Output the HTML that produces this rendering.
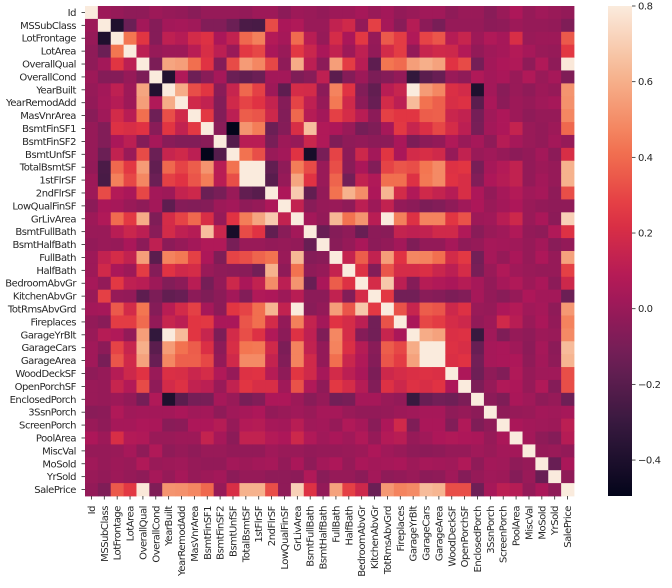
<!DOCTYPE html>
<html><head><meta charset="utf-8"><style>
body{margin:0;background:#fff;}
svg text{font-family:"DejaVu Sans","Liberation Sans",sans-serif;font-size:10px;letter-spacing:-0.45px;fill:#262626;}
</style></head><body>
<svg id="chart" width="672" height="583" xmlns="http://www.w3.org/2000/svg">
<g id="cells"></g>
<g id="ylab"></g>
<g id="xlab"></g>
<defs><linearGradient id="cbg" x1="0" y1="1" x2="0" y2="0"></linearGradient></defs>
<g id="cbar"></g>
</svg>
<script>
const labels=["Id","MSSubClass","LotFrontage","LotArea","OverallQual","OverallCond","YearBuilt","YearRemodAdd","MasVnrArea","BsmtFinSF1","BsmtFinSF2","BsmtUnfSF","TotalBsmtSF","1stFlrSF","2ndFlrSF","LowQualFinSF","GrLivArea","BsmtFullBath","BsmtHalfBath","FullBath","HalfBath","BedroomAbvGr","KitchenAbvGr","TotRmsAbvGrd","Fireplaces","GarageYrBlt","GarageCars","GarageArea","WoodDeckSF","OpenPorchSF","EnclosedPorch","3SsnPorch","ScreenPorch","PoolArea","MiscVal","MoSold","YrSold","SalePrice"];
// upper triangle: row i holds correlations with variables i+1..37
const upper=[
[0.01,-0.01,-0.03,-0.03,0.01,-0.01,-0.02,-0.05,-0.01,-0.01,-0.01,-0.02,0.01,0.01,-0.04,0.01,0.00,-0.02,0.01,0.01,0.04,0.00,0.03,-0.02,0.00,0.02,0.02,-0.03,0.00,0.00,-0.05,0.00,0.06,-0.01,0.02,0.00,-0.02],
[-0.39,-0.14,0.03,-0.06,0.03,0.04,0.02,-0.07,-0.07,-0.14,-0.24,-0.25,0.31,0.05,0.07,0,0,0.13,0.18,-0.02,0.28,0.04,-0.05,0.09,-0.04,-0.10,-0.01,-0.01,-0.01,-0.04,-0.03,0.01,-0.01,-0.01,-0.02,-0.08],
[0.43,0.25,-0.06,0.12,0.09,0.19,0.23,0.05,0.13,0.39,0.46,0.08,0.04,0.40,0.10,-0.01,0.20,0.05,0.26,-0.01,0.35,0.27,0.07,0.29,0.34,0.09,0.15,0.01,0.07,0.04,0.21,0.00,0.01,0.01,0.35],
[0.11,-0.01,0.01,0.01,0.10,0.21,0.11,0,0.26,0.30,0.05,0,0.26,0.16,0.05,0.13,0.01,0.12,-0.02,0.19,0.27,-0.02,0.15,0.18,0.17,0.08,-0.02,0.02,0.04,0.08,0.04,0,-0.01,0.26],
[-0.09,0.57,0.55,0.41,0.24,-0.06,0.31,0.54,0.48,0.30,-0.03,0.59,0.11,-0.04,0.55,0.27,0.10,-0.18,0.43,0.40,0.55,0.60,0.56,0.24,0.31,-0.11,0.03,0.06,0.07,-0.03,0.07,-0.03,0.79],
[-0.38,0.07,-0.13,-0.05,0.04,-0.14,-0.17,-0.14,0.03,0.03,-0.08,-0.05,0.12,-0.19,-0.06,0.01,-0.09,-0.06,-0.02,-0.32,-0.19,-0.15,0,-0.03,0.07,0.03,0.05,0,0.07,0,0.04,-0.08],
[0.59,0.32,0.25,-0.05,0.15,0.39,0.28,0.01,-0.18,0.20,0.19,-0.04,0.47,0.24,-0.07,-0.17,0.10,0.15,0.83,0.54,0.48,0.22,0.19,-0.39,0.03,-0.05,0,-0.03,0.01,-0.01,0.52],
[0.18,0.13,-0.07,0.18,0.29,0.24,0.14,-0.06,0.29,0.12,-0.01,0.44,0.18,-0.04,-0.15,0.19,0.11,0.64,0.42,0.37,0.21,0.23,-0.19,0.05,-0.04,0.01,-0.01,0.02,0.04,0.51],
[0.26,-0.07,0.11,0.36,0.34,0.17,-0.07,0.39,0.09,0.03,0.28,0.20,0.10,-0.04,0.28,0.25,0.25,0.36,0.37,0.16,0.13,-0.11,0.02,0.06,0.01,-0.03,-0.01,-0.01,0.48],
[-0.05,-0.495,0.52,0.45,-0.14,-0.06,0.21,0.65,0.07,0.06,0,-0.11,-0.08,0.04,0.26,0.15,0.22,0.30,0.20,0.11,-0.10,0.03,0.06,0.14,0,-0.02,0.01,0.39],
[-0.21,0.10,0.10,-0.10,0.01,-0.01,0.16,0.07,-0.08,-0.03,-0.02,-0.04,-0.04,0.05,-0.09,-0.04,-0.02,0.07,0,0.04,-0.03,0.09,0.04,0,-0.02,0.03,-0.01],
[0.42,0.32,0,0.03,0.24,-0.42,-0.10,0.29,-0.04,0.17,0.03,0.25,0.05,0.19,0.21,0.18,-0.01,0.13,0,0.02,-0.01,-0.04,-0.02,0.03,-0.04,0.21],
[0.82,-0.17,-0.03,0.45,0.31,0,0.32,-0.05,0.05,-0.07,0.29,0.34,0.32,0.43,0.49,0.23,0.25,-0.10,0.04,0.08,0.13,-0.02,0.01,-0.01,0.61],
[-0.20,-0.01,0.57,0.24,0,0.38,-0.12,0.13,0.07,0.41,0.41,0.23,0.44,0.49,0.24,0.21,-0.07,0.06,0.09,0.13,-0.02,0.03,-0.01,0.61],
[0.06,0.69,-0.17,-0.02,0.42,0.61,0.50,0.06,0.62,0.19,0.07,0.18,0.14,0.09,0.21,0.06,-0.02,0.04,0.08,0.02,0.04,-0.03,0.32],
[0.13,-0.05,-0.01,0,-0.03,0.11,0.01,0.13,-0.02,-0.04,-0.09,-0.07,-0.03,0.02,0.06,0,0.03,0.06,0,-0.02,-0.03,-0.03],
[0.03,-0.02,0.63,0.42,0.52,0.10,0.83,0.46,0.23,0.47,0.47,0.25,0.33,0.01,0.02,0.10,0.17,0,0.05,-0.04,0.71],
[-0.15,-0.06,-0.03,-0.15,-0.04,-0.05,0.14,0.12,0.13,0.18,0.18,0.07,-0.05,0,0.02,0.07,-0.02,-0.03,0.07,0.23],
[-0.05,-0.01,0.05,-0.04,-0.02,0.03,-0.08,-0.02,-0.02,0.04,-0.03,-0.01,0.04,0.03,0.02,-0.01,0.03,-0.05,-0.02],
[0.14,0.36,0.13,0.55,0.24,0.48,0.47,0.41,0.19,0.26,-0.12,0.04,-0.01,0.05,-0.01,0.06,-0.01,0.56],
[0.23,-0.07,0.34,0.20,0.20,0.22,0.16,0.11,0.20,-0.10,0,0.07,0.02,0,-0.01,-0.01,0.28],
[0.20,0.68,0.11,-0.06,0.09,0.07,0.05,0.09,0.04,-0.02,0.04,0.07,0.01,0.05,-0.04,0.17],
[0.26,-0.12,-0.12,-0.05,-0.06,-0.09,-0.07,0.04,-0.02,-0.05,-0.01,0.06,0.03,0.03,-0.14],
[0.33,0.15,0.36,0.34,0.17,0.23,0,-0.01,0.06,0.08,0.02,0.04,-0.03,0.53],
[0.05,0.30,0.27,0.20,0.17,-0.02,0.01,0.18,0.10,0,0.05,-0.02,0.47],
[0.59,0.56,0.22,0.23,-0.30,0.02,-0.08,-0.01,-0.03,0.01,0,0.49],
[0.88,0.23,0.21,-0.15,0.04,0.05,0.02,-0.04,0.04,-0.04,0.64],
[0.22,0.24,-0.12,0.04,0.05,0.06,-0.03,0.03,-0.03,0.62],
[0.06,-0.13,-0.03,-0.07,0.07,-0.01,0.02,0.02,0.32],
[-0.09,-0.01,0.07,0.06,-0.01,0.07,-0.06,0.32],
[-0.04,-0.08,0.05,0.02,-0.03,-0.01,-0.13],
[-0.03,-0.01,0.00,0.03,0.02,0.04],
[0.05,0.03,0.02,0.01,0.11],
[0.03,-0.03,-0.06,0.09],
[-0.01,0.00,-0.02],
[-0.15,0.05],
[-0.03]
];
const cbTicks=[-0.4,-0.2,0.0,0.2,0.4,0.6,0.8];
const VMAX=0.8;

const NS="http://www.w3.org/2000/svg";
const n=labels.length;
const M=[];for(let i=0;i<n;i++){M.push(new Array(n).fill(1));}
for(let i=0;i<n-1;i++)for(let k=0;k<upper[i].length;k++){const j=i+1+k;M[i][j]=upper[i][k];M[j][i]=upper[i][k];}
let VMIN=Infinity;for(const r of M)for(const v of r)VMIN=Math.min(VMIN,v);

const X0=85,Y0=6,W=489,H=490,cw=W/n,ch=H/n;
const xs=i=>X0+i*cw, ys=i=>Y0+i*ch;
const stops=[[0,[3,5,26]],[1/7,[53,25,62]],[2/7,[112,31,87]],[3/7,[173,23,89]],[4/7,[225,51,66]],[5/7,[243,118,81]],[6/7,[246,180,143]],[1,[250,235,221]]];
function cmap(t){t=Math.max(0,Math.min(1,t));for(let k=1;k<stops.length;k++){if(t<=stops[k][0]){const a=stops[k-1],b=stops[k];const f=(t-a[0])/(b[0]-a[0]);const c=a[1].map((v,q)=>Math.round(v+(b[1][q]-v)*f));return `rgb(${c[0]},${c[1]},${c[2]})`;}}return 'rgb(250,235,221)';}
const col=v=>cmap((v-VMIN)/(VMAX-VMIN));
function mk(tag,attrs,parent){const e=document.createElementNS(NS,tag);for(const k in attrs)e.setAttribute(k,attrs[k]);parent.appendChild(e);return e;}

const cells=document.getElementById('cells');
for(let i=0;i<n;i++)for(let j=0;j<n;j++){
  const r=mk('rect',{x:xs(j).toFixed(2),y:ys(i).toFixed(2),width:(cw+0.4).toFixed(2),height:(ch+0.4).toFixed(2),fill:col(M[i][j])},cells);
  
  
}
const yl=document.getElementById('ylab'),xl=document.getElementById('xlab');
for(let i=0;i<n;i++){
  const cy=ys(i)+ch/2, cx=xs(i)+cw/2;
  mk('line',{x1:X0-3.5,x2:X0,y1:cy,y2:cy,stroke:'#262626','stroke-width':0.8},yl);
  const t=mk('text',{x:X0-9,y:cy+3.5,'text-anchor':'end'},yl);t.textContent=labels[i];
  
  
  mk('line',{x1:cx,x2:cx,y1:Y0+H,y2:Y0+H+3.5,stroke:'#262626','stroke-width':0.8},xl);
  const u=mk('text',{x:0,y:0,'text-anchor':'end',transform:`translate(${cx+3.5},${Y0+H+10}) rotate(-90)`},xl);u.textContent=labels[i];
  
  
}
// colorbar
const g=document.getElementById('cbg');
for(let k=0;k<=20;k++){mk('stop',{offset:k/20,'stop-color':cmap(k/20)},g);}
const cb=document.getElementById('cbar');
const CX=608,CW=24,CT=6,CB=496;
const cby=v=>CB-(v-VMIN)/(VMAX-VMIN)*(CB-CT);
mk('rect',{x:CX,y:CT,width:CW,height:CB-CT,fill:'url(#cbg)'},cb);
for(const v of cbTicks){
  const y=cby(v);
  mk('line',{x1:CX+CW,x2:CX+CW+3.5,y1:y,y2:y,stroke:'#262626','stroke-width':0.8},cb);
  const t=mk('text',{x:CX+CW+6,y:y+3.5},cb);t.textContent=(v<0?'\u2212':'')+Math.abs(v).toFixed(1);
  
  
}
</script>
</body></html>
